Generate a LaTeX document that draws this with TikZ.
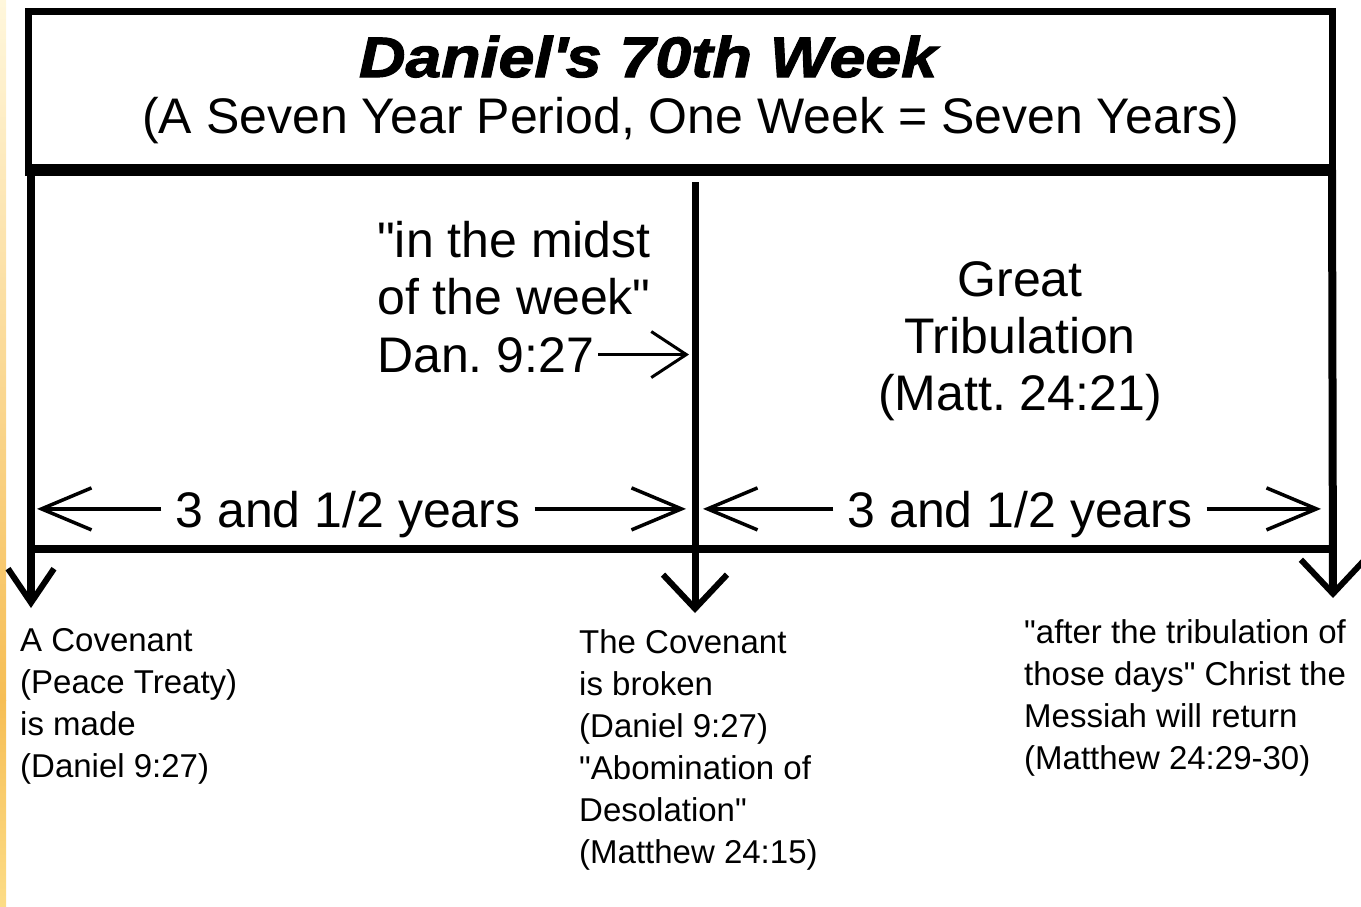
\documentclass[tikz,border=0pt]{standalone}
\usepackage{fontspec}
\setmainfont{Liberation Sans}
\newfontfamily\titlefont[FakeStretch=1.13,FakeBold=2]{Liberation Sans Bold Italic}
\usetikzlibrary{arrows.meta}
\definecolor{stripA}{HTML}{FFF7DC}
\definecolor{stripB}{HTML}{F6BE55}
\definecolor{stripC}{HTML}{FCDC86}
\frenchspacing

\begin{document}
\begin{tikzpicture}[x=1pt,y=-1pt,
  bigtext/.style={inner sep=0pt,font=\fontsize{50}{57}\selectfont},
  smalltext/.style={inner sep=0pt,anchor=north west,align=left,font=\fontsize{33}{42}\selectfont,execute at begin node=\strut},
  vbarb/.style={-{Straight Barb[length=34pt,width=#1,line width=6pt]}},
  hbarb/.style={line width=3.5pt,-{Straight Barb[length=50pt,width=42pt,line width=3.5pt]}}]
  \useasboundingbox (0,0) rectangle (1361,906);
  % left strip
  \shade[top color=stripA, bottom color=stripB] (0,0) rectangle (6,700);
  \shade[top color=stripB, bottom color=stripC] (0,700) rectangle (6,906);

  % title box
  \draw[line width=7pt] (28.5,11) rectangle (1332,170);
  \draw[line width=12pt] (25,170) -- (1335.5,170);
  \node[font=\titlefont\fontsize{57}{60}\selectfont,anchor=base,inner sep=0pt] (title) at (648,77) {Daniel\textquotesingle s 70th Week};
  \node[bigtext,anchor=base] (sub) at (691,133) {(A Seven Year Period, One Week = Seven Years)};

  % time line
  \coordinate (tl) at (31,170);
  \coordinate (tm) at (695,182);
  \coordinate (tr) at (1332,170);
  \coordinate (bl) at (31,549);
  \coordinate (br) at (1332,549);
  \coordinate (al) at (31,608);
  \coordinate (am) at (695,613);
  \coordinate (ar) at (1333,598);
  \draw[line width=8pt] (bl) -- (br);
  \draw[line width=8pt,vbarb=46pt] (tl) -- (al);
  \draw[line width=7pt,vbarb=64pt] (tm) -- (am);
  \draw[line width=8pt,vbarb=64pt] (tr) -- (ar);

  % first half
  \node[bigtext,anchor=north west,align=left,execute at begin node=\strut] (midst) at (377,221) {\textquotedbl in the midst\\of the week\textquotedbl};
  \node[bigtext,anchor=base west,text depth=0pt,inner xsep=4pt] (dan) at (373,372) {Dan. 9:27};
  \coordinate (danend) at (689,353);
  \draw[line width=3pt,-{Straight Barb[length=35pt,width=46pt,line width=3pt]}] (dan.east) -- (dan.east -| danend);
  \node[bigtext,anchor=base,text depth=0pt,inner xsep=14pt] (yl) at (348,527) {3 and 1/2 years};
  \coordinate (yla) at (37,508);
  \coordinate (ylb) at (686,508);
  \draw[hbarb] (yl.west) -- (yl.west -| yla);
  \draw[hbarb] (yl.east) -- (yl.east -| ylb);

  % second half
  \node[bigtext,anchor=north,align=center,execute at begin node=\strut] (great) at (1020,261) {Great\\Tribulation\\(Matt. 24:21)};
  \node[bigtext,anchor=base,text depth=0pt,inner xsep=14pt] (yr) at (1020,527) {3 and 1/2 years};
  \coordinate (yra) at (703,508);
  \coordinate (yrb) at (1321,508);
  \draw[hbarb] (yr.west) -- (yr.west -| yra);
  \draw[hbarb] (yr.east) -- (yr.east -| yrb);

  % events
  \node[smalltext] (made) at (20,628) {A Covenant\\(Peace Treaty)\\is made\\(Daniel 9:27)};
  \node[smalltext] (broken) at (579,629) {The Covenant\\is broken\\(Daniel 9:27)\\\textquotedbl Abomination of\\Desolation\textquotedbl\\(Matthew 24:15)};
  \node[smalltext] (return) at (1024,619) {\textquotedbl after the tribulation of\\those days\textquotedbl\ Christ the\\Messiah will return\\(Matthew 24:29-30)};
\end{tikzpicture}
\end{document}
